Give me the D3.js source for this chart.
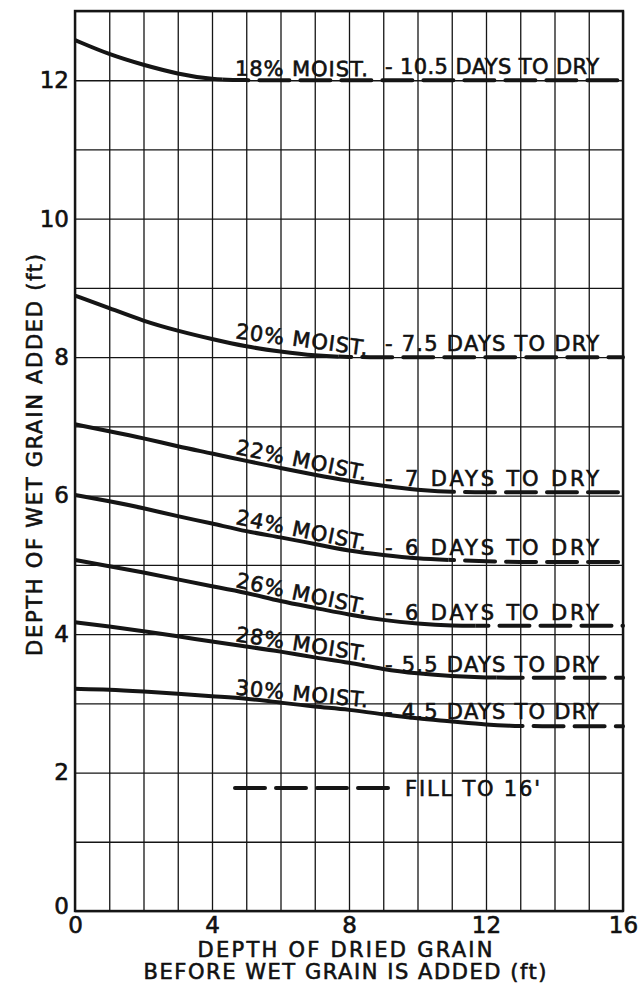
<!DOCTYPE html>
<html>
<head>
<meta charset="utf-8">
<script src="https://cdn.jsdelivr.net/npm/d3@7"></script>
<style>
  body { margin: 0; background: #fff; }
  text { font-family: "DejaVu Sans", sans-serif; fill: #111; stroke: #111; stroke-width: 0.6px; }
</style>
</head>
<body>
<div id="chart"></div>
<script>
// depth of dried grain already in the bin (ft), one reading per foot
var depthDried = [0, 1, 2, 3, 4, 5, 6, 7, 8, 9, 10, 11, 12, 13, 14, 15, 16];

// depth of wet grain that can be added (ft)
var wet18 = [12.58, 12.37, 12.22, 12.09, 12.01, 12.0, 12.0, 12.0, 12.0, 12.0, 12.0, 12.0, 12.0, 12.0, 12.0, 12.0, 12.0];
var wet20 = [8.89, 8.71, 8.52, 8.38, 8.26, 8.15, 8.08, 8.02, 8.0, 8.0, 8.0, 8.0, 8.0, 8.0, 8.0, 8.0, 8.0];
var wet22 = [7.03, 6.93, 6.83, 6.71, 6.61, 6.50, 6.40, 6.30, 6.21, 6.14, 6.08, 6.05, 6.05, 6.05, 6.05, 6.05, 6.05];
var wet24 = [6.01, 5.92, 5.82, 5.70, 5.60, 5.48, 5.40, 5.30, 5.20, 5.14, 5.09, 5.07, 5.05, 5.04, 5.04, 5.04, 5.04];
var wet26 = [5.07, 4.98, 4.89, 4.79, 4.69, 4.60, 4.47, 4.38, 4.28, 4.20, 4.15, 4.12, 4.12, 4.12, 4.12, 4.12, 4.12];
var wet28 = [4.17, 4.11, 4.04, 3.97, 3.89, 3.82, 3.75, 3.66, 3.59, 3.49, 3.43, 3.39, 3.37, 3.37, 3.37, 3.37, 3.37];
var wet30 = [3.21, 3.20, 3.17, 3.14, 3.10, 3.07, 3.01, 2.95, 2.91, 2.84, 2.78, 2.74, 2.69, 2.67, 2.67, 2.67, 2.67];

var moisture = ["18%", "20%", "22%", "24%", "26%", "28%", "30%"];
var daysToDry = ["10.5", "7.5", "7", "6", "6", "5.5", "4.5"];
// beyond this depth of dried grain the curve is drawn dashed ("fill to 16'")
var solidTo = [4.3, 7.7, 10.6, 10.9, 11.7, 12.3, 12.7];

var xTicks = [0, 4, 8, 12, 16];
var yTicks = [0, 2, 4, 6, 8, 10, 12];

var curves = [wet18, wet20, wet22, wet24, wet26, wet28, wet30].map(function (v, i) {
  return {
    moist: moisture[i],
    days: daysToDry[i],
    solidTo: solidTo[i],
    values: v.map(function (d, j) { return { x: depthDried[j], y: d }; })
  };
});

/*
  D3.js setup code
*/
var width = 644, height = 986;
var svg = d3.select("#chart").append("svg")
  .attr("width", width)
  .attr("height", height);

var x = d3.scaleLinear().domain([0, 16]).range([75, 623]);
var y = d3.scaleLinear().domain([0, 13]).range([911, 11]);

var ink = "#151515";

// grid lines - one per foot both ways
svg.append("g")
  .attr("transform", "translate(0," + y(0) + ")")
  .call(d3.axisBottom(x).tickValues(d3.range(0, 17)).tickSize(-(y(0) - y(13))).tickFormat(""))
  .call(function (g) { g.select(".domain").remove(); })
  .selectAll("line").attr("stroke", ink).attr("stroke-width", 1.3);

svg.append("g")
  .attr("transform", "translate(" + x(0) + ",0)")
  .call(d3.axisLeft(y).tickValues(d3.range(0, 14)).tickSize(-(x(16) - x(0))).tickFormat(""))
  .call(function (g) { g.select(".domain").remove(); })
  .selectAll("line").attr("stroke", ink).attr("stroke-width", 1.3);

// frame
svg.append("rect")
  .attr("x", x(0)).attr("y", y(13))
  .attr("width", x(16) - x(0)).attr("height", y(0) - y(13))
  .attr("fill", "none").attr("stroke", ink).attr("stroke-width", 2.4);

// tick labels
var xAxis = svg.append("g")
  .attr("transform", "translate(0," + y(0) + ")")
  .call(d3.axisBottom(x).tickValues(xTicks).tickSize(0).tickPadding(5).tickFormat(d3.format("d")));
xAxis.select(".domain").remove();
xAxis.selectAll("text")
  .attr("font-size", 23).attr("font-family", "DejaVu Sans").attr("fill", ink)
  .attr("dy", "0.74em");

var yAxis = svg.append("g")
  .attr("transform", "translate(" + x(0) + ",0)")
  .call(d3.axisLeft(y).tickValues(yTicks).tickSize(0).tickPadding(6).tickFormat(d3.format("d")));
yAxis.select(".domain").remove();
yAxis.selectAll("text")
  .attr("font-size", 23).attr("font-family", "DejaVu Sans").attr("fill", ink);
yAxis.selectAll(".tick").filter(function (d) { return d === 0; })
  .select("text").attr("dy", "0.1em");

// axis titles
svg.append("text")
  .attr("transform", "translate(42,455) rotate(-90)")
  .attr("text-anchor", "middle")
  .attr("font-size", 21)
  .attr("textLength", 402)
  .text("DEPTH OF WET GRAIN ADDED (ft)");

svg.append("text")
  .attr("x", 345).attr("y", 957)
  .attr("text-anchor", "middle")
  .attr("font-size", 21)
  .attr("textLength", 295)
  .text("DEPTH OF DRIED GRAIN");

svg.append("text")
  .attr("x", 345).attr("y", 979)
  .attr("text-anchor", "middle")
  .attr("font-size", 21)
  .attr("textLength", 403)
  .text("BEFORE WET GRAIN IS ADDED (ft)");

// curves: solid part, then dashed part, split with clip paths
var line = d3.line()
  .x(function (d) { return x(d.x); })
  .y(function (d) { return y(d.y); })
  .curve(d3.curveBasis);

var defs = svg.append("defs");

curves.forEach(function (c, i) {
  defs.append("clipPath").attr("id", "solid" + i)
    .append("rect")
    .attr("x", 0).attr("y", 0)
    .attr("width", x(c.solidTo)).attr("height", height);
  defs.append("clipPath").attr("id", "dash" + i)
    .append("rect")
    .attr("x", x(c.solidTo)).attr("y", 0)
    .attr("width", width - x(c.solidTo)).attr("height", height);

  svg.append("path")
    .datum(c.values)
    .attr("clip-path", "url(#solid" + i + ")")
    .attr("fill", "none")
    .attr("stroke", ink)
    .attr("stroke-width", 4)
    .attr("d", line);

  svg.append("path")
    .datum(c.values.filter(function (d) { return d.x >= Math.floor(c.solidTo) - 1; }))
    .attr("clip-path", "url(#dash" + i + ")")
    .attr("fill", "none")
    .attr("stroke", ink)
    .attr("stroke-width", 4)
    .attr("stroke-linecap", "round")
    .attr("stroke-dasharray", "30,11")
    .attr("d", line);
});

// labels - the "% MOIST." part leans with the curve, the days part sits flat above the tail
var labelStart = 4.67, daysStart = 9.05, daysEnd = 15.3;

curves.forEach(function (c) {
  var p4 = c.values[4], p8 = c.values[8];
  var ang = Math.atan2(y(p8.y) - y(p4.y), x(p8.x) - x(p4.x)) * 180 / Math.PI;
  var yAt = p4.y + (p8.y - p4.y) * (labelStart - p4.x) / (p8.x - p4.x);

  svg.append("text")
    .attr("transform", "translate(" + x(labelStart) + "," + (y(yAt) - 4) + ") rotate(" + ang + ")")
    .attr("font-size", 21)
    .attr("textLength", 133)
    .text(c.moist + " MOIST.");

  svg.append("text")
    .attr("x", x(daysStart))
    .attr("y", y(c.values[12].y) - 6)
    .attr("font-size", 21)
    .attr("textLength", x(daysEnd) - x(daysStart))
    .text("- " + c.days + " DAYS TO DRY");
});

// legend
svg.append("line")
  .attr("x1", 235).attr("x2", 393)
  .attr("y1", 788).attr("y2", 788)
  .attr("stroke", ink)
  .attr("stroke-width", 4)
  .attr("stroke-linecap", "round")
  .attr("stroke-dasharray", "30,11");

svg.append("text")
  .attr("x", 405).attr("y", 796)
  .attr("font-size", 21)
  .attr("textLength", 135)
  .text("FILL TO 16'");
</script>
</body>
</html>
